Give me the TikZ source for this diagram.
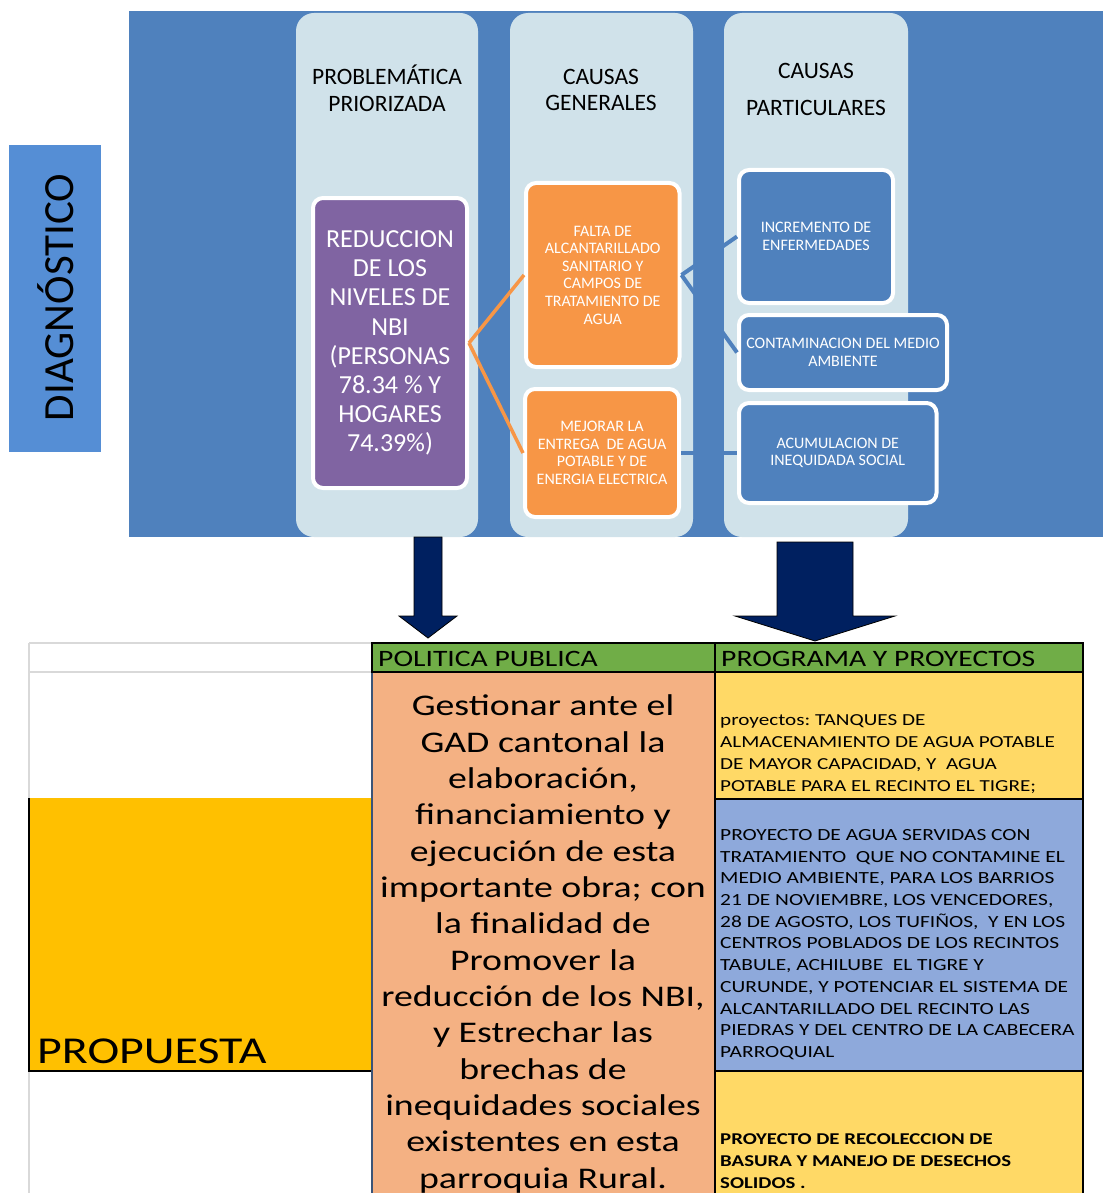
\documentclass[tikz,border=0pt]{standalone}
\usepackage{fontspec}
\setmainfont{Carlito}
\newfontfamily\tabfont{Carlito}[FakeStretch=1.26]
\frenchspacing
\definecolor{bgblue}{HTML}{4F81BD}
\definecolor{diagblue}{HTML}{558ED5}
\definecolor{colbg}{HTML}{D0E2EA}
\definecolor{nbipurple}{HTML}{8064A2}
\definecolor{causeorange}{HTML}{F79646}
\definecolor{navy}{HTML}{002060}
\definecolor{hdrgreen}{HTML}{70AD47}
\definecolor{propyellow}{HTML}{FFC000}
\definecolor{salmon}{HTML}{F4B183}
\definecolor{softyellow}{HTML}{FFD966}
\definecolor{cellblue}{HTML}{8EA9DB}
\definecolor{gridgray}{HTML}{D9D9D9}
\definecolor{slate}{HTML}{3B5477}
\begin{document}
\begin{tikzpicture}[x=1pt,y=-1pt,
  colstyle/.style={fill=colbg, rounded corners=18pt},
  cbox/.style={draw=white, line width=4pt, rounded corners=10pt, text=white,
    align=center, inner sep=0pt, font=\fontsize{16}{17.6}\selectfont},
  hdrtext/.style={align=center, inner sep=0pt, text=black},
  olink/.style={draw=causeorange, line width=3.5pt},
  blink/.style={draw=bgblue, line width=4pt},
  blockarrow/.style={fill=navy, draw=black, line width=0.8pt, line join=miter},
  tabhdr/.style={fill=hdrgreen, draw=black, line width=1.8pt},
  tabcell/.style={draw=black, line width=1.8pt},
  tabtext/.style={inner sep=0pt, align=left, anchor=west, text=black}
]
\useasboundingbox (0,0) rectangle (1103,1193);
\fill[white] (0,0) rectangle (1103,1193);

% ---------- DIAGNOSTICO ----------
\fill[bgblue] (129,11) rectangle (1103,537);
\fill[diagblue] (9,145) rectangle (101,452);
\node[rotate=90, inner sep=0pt, font=\fontsize{43}{50}\selectfont] (diag) at (56,297.5) {DIAGNÓSTICO};

\fill[colstyle] (296,13) rectangle (478,537);
\fill[colstyle] (510,13) rectangle (693,537);
\fill[colstyle] (724,13) rectangle (908,537);

\node[hdrtext, font=\fontsize{23.5}{27}\selectfont] (h1) at (387,88) {PROBLEMÁTICA\\PRIORIZADA};
\node[hdrtext, font=\fontsize{23.5}{26}\selectfont] (h2) at (601,90) {CAUSAS\\GENERALES};
\node[hdrtext, font=\fontsize{23.5}{37}\selectfont] (h3) at (816,89.5) {CAUSAS\\PARTICULARES};

\node[cbox, fill=nbipurple, minimum width=154pt, minimum height=290pt,
  font=\fontsize{26}{29.1}\selectfont] (nbi) at (390,343)
  {REDUCCION\\DE LOS\\NIVELES DE\\NBI\\(PERSONAS\\78.34 \% Y\\HOGARES\\74.39\%)};
\node[cbox, fill=causeorange, minimum width=153.5pt, minimum height=184pt] (falta) at (602.75,275)
  {FALTA DE\\ALCANTARILLADO\\SANITARIO Y\\CAMPOS DE\\TRATAMIENTO DE\\AGUA};
\node[cbox, fill=causeorange, minimum width=154pt, minimum height=128pt] (mejorar) at (602,453)
  {MEJORAR LA\\ENTREGA\ \ DE AGUA\\POTABLE Y DE\\ENERGIA ELECTRICA};
\node[cbox, fill=bgblue, minimum width=154pt, minimum height=133pt] (incr) at (816,236.5)
  {INCREMENTO DE\\ENFERMEDADES};
\node[cbox, fill=bgblue, minimum width=208pt, minimum height=75pt] (contam) at (843,352.5)
  {CONTAMINACION DEL MEDIO\\AMBIENTE};
\node[cbox, fill=bgblue, minimum width=197.5pt, minimum height=100pt] (acum) at (837.75,453)
  {ACUMULACION DE\\INEQUIDADA SOCIAL};

\draw[olink] (nbi.east) -- (falta.west);
\draw[olink] (nbi.east) -- (mejorar.west);
\draw[blink] (falta.east) -- (incr.west);
\draw[blink] (falta.east) -- (contam.west);
\draw[blink] (mejorar.east) -- (acum.west);

% ---------- block arrows ----------
\draw[blockarrow] (414,537) -- (442,537) -- (442,616) -- (457,616) -- (428,638) -- (399,616) -- (414,616) -- cycle;
\draw[blockarrow] (777,542) -- (853,542) -- (853,616) -- (895,616) -- (815,641) -- (735,616) -- (777,616) -- cycle;

% ---------- PROPUESTA table ----------
\draw[gridgray, line width=1.5pt] (29,643) -- (372,643);
\draw[gridgray, line width=1.5pt] (29,672) -- (372,672);
\draw[gridgray, line width=1.5pt] (29,643) -- (29,1193);
\fill[propyellow] (29,798) rectangle (372,1071);
\draw[black, line width=1.8pt] (29,798) -- (29,1071) -- (372,1071);
\node[inner sep=0pt, anchor=base west, font=\tabfont\fontsize{38}{44}\selectfont] (prop) at (37,1063) {PROPUESTA};

\fill[salmon] (372,672) rectangle (715,1193);
\draw[slate, line width=1.5pt] (372,672) -- (372,1193);

\fill[softyellow] (715,672) rectangle (1083,799);
\fill[cellblue] (715,799) rectangle (1083,1071);
\fill[softyellow] (715,1071) rectangle (1083,1193);
\draw[tabcell] (715,672) -- (715,1193);
\draw[tabcell] (1083,672) -- (1083,1193);
\draw[tabcell] (715,799) -- (1083,799);
\draw[tabcell] (715,1071) -- (1083,1071);

\draw[tabhdr] (372,643) rectangle (715,672);
\draw[tabhdr] (715,643) rectangle (1083,672);
\node[inner sep=0pt, anchor=base west, font=\tabfont\fontsize{23.5}{27}\selectfont] (pp) at (378,666) {POLITICA PUBLICA};
\node[inner sep=0pt, anchor=base west, font=\tabfont\fontsize{23.5}{27}\selectfont] (pyp) at (721,666) {PROGRAMA Y PROYECTOS};

\node[inner sep=0pt, align=center, font=\tabfont\fontsize{30}{36.35}\selectfont] (polit) at (543,944)
  {Gestionar ante el\\GAD cantonal la\\elaboración,\\financiamiento y\\ejecución de esta\\importante obra; con\\la finalidad de\\Promover la\\reducción de los NBI,\\y Estrechar las\\brechas de\\inequidades sociales\\existentes en esta\\parroquia Rural.};

\node[tabtext, font=\tabfont\fontsize{16.8}{22}\selectfont] (proy1) at (720,754)
  {proyectos: TANQUES DE\\ALMACENAMIENTO DE AGUA POTABLE\\DE MAYOR CAPACIDAD, Y\ \ AGUA\\POTABLE PARA EL RECINTO EL TIGRE;};
\node[tabtext, font=\tabfont\fontsize{17}{21.7}\selectfont] (proy2) at (720,944.5)
  {PROYECTO DE AGUA SERVIDAS CON\\TRATAMIENTO\ \ QUE NO CONTAMINE EL\\MEDIO AMBIENTE, PARA LOS BARRIOS\\21 DE NOVIEMBRE, LOS VENCEDORES,\\28 DE AGOSTO, LOS TUFIÑOS,\ \ Y EN LOS\\CENTROS POBLADOS DE LOS RECINTOS\\TABULE, ACHILUBE\ \ EL TIGRE Y\\CURUNDE, Y POTENCIAR EL SISTEMA DE\\ALCANTARILLADO DEL RECINTO LAS\\PIEDRAS Y DEL CENTRO DE LA CABECERA\\PARROQUIAL};
\node[tabtext, font=\tabfont\bfseries\fontsize{16.5}{22}\selectfont] (proy3) at (720,1161)
  {PROYECTO DE RECOLECCION DE\\BASURA Y MANEJO DE DESECHOS\\SOLIDOS .};
\end{tikzpicture}
\end{document}
